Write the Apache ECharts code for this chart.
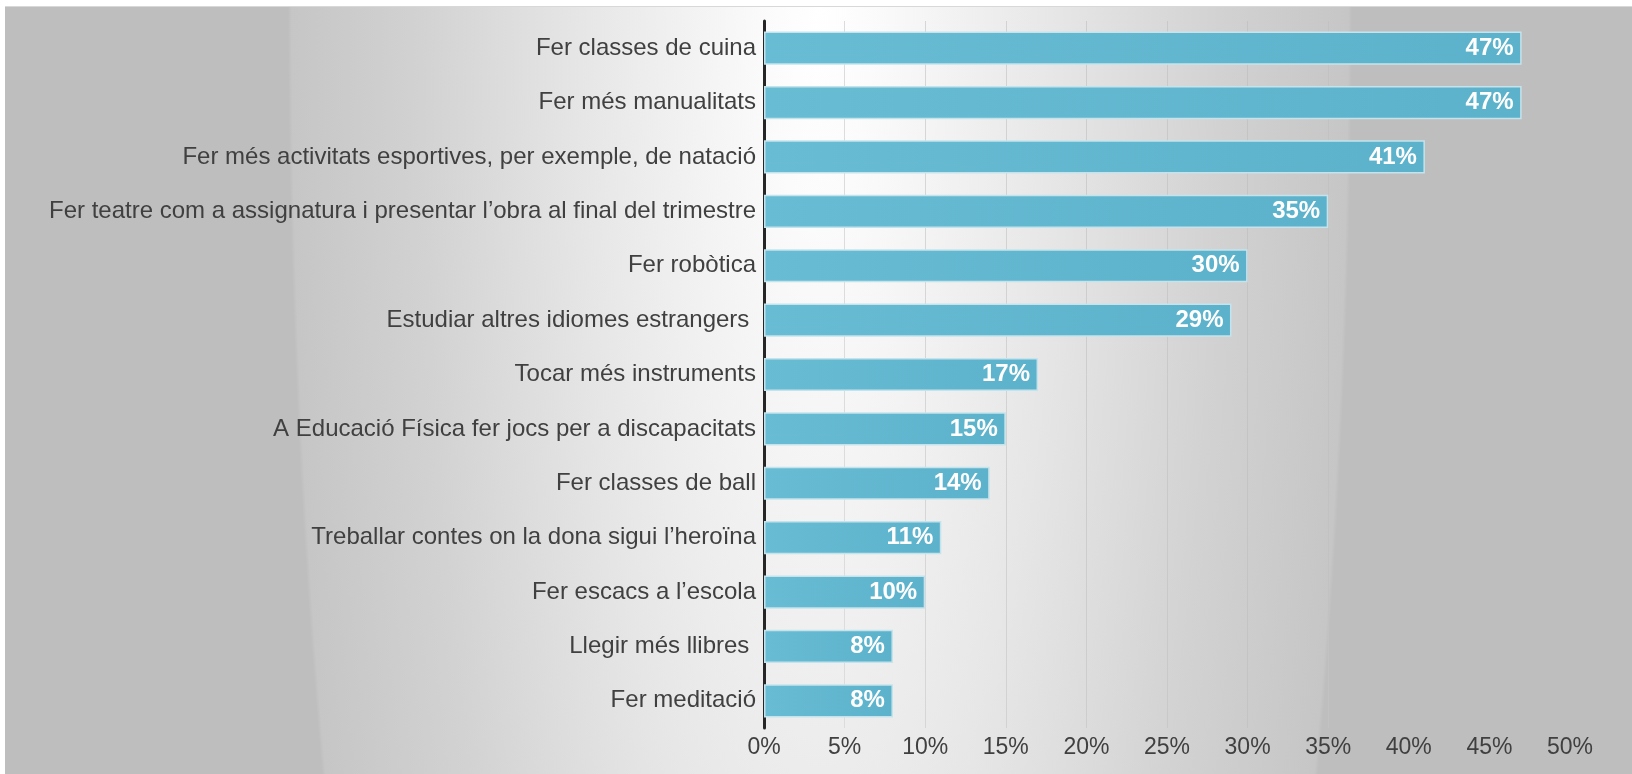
<!DOCTYPE html>
<html>
<head>
<meta charset="utf-8">
<script src="https://cdn.jsdelivr.net/npm/echarts@6/dist/echarts.min.js"></script>
<style>
  html, body { margin: 0; padding: 0; background: #ffffff; }
  #frame {
    position: absolute; left: 0; top: 0; width: 1632px; height: 774px;
    background: #ffffff;
  }
  #chart {
    position: absolute; left: 5px; top: 6px; width: 1627px; height: 768px;
    border-top: 1px solid #d8d8d8;
    box-sizing: border-box;
    background: radial-gradient(ellipse 532px 2200px at 815px -6px,
      #ffffff 0%, #fbfbfb 10%, #e6e6e6 45%, #d2d2d2 75%, #c6c6c6 99.3%, #bebebe 100%);
  }
</style>
</head>
<body>
<div id="frame"><div id="chart"></div></div>
<script>
// Activities, listed from the top of the chart downwards
const categories = [
  'Fer classes de cuina',
  'Fer més manualitats',
  'Fer més activitats esportives, per exemple, de natació',
  'Fer teatre com a assignatura i presentar l’obra al final del trimestre',
  'Fer robòtica',
  'Estudiar altres idiomes estrangers ',
  'Tocar més instruments',
  'A Educació Física fer jocs per a discapacitats',
  'Fer classes de ball',
  'Treballar contes on la dona sigui l’heroïna',
  'Fer escacs a l’escola',
  'Llegir més llibres ',
  'Fer meditació'
];
// Share of answers, in percent
const shares = [47, 47, 41, 35, 30, 29, 17, 15, 14, 11, 10, 8, 8];
// Horizontal axis range and step, in percent
const axisMax = 50;
const axisStep = 5;

const font = 'Liberation Sans, Arial, sans-serif';

const chart = echarts.init(document.getElementById('chart'), null, { renderer: 'canvas' });
chart.setOption({
  backgroundColor: 'transparent',
  animation: false,
  grid: { left: 759, right: 62, top: 14, bottom: 46, containLabel: false },
  xAxis: {
    type: 'value',
    min: 0,
    max: axisMax,
    interval: axisStep,
    axisLine: { show: false },
    axisTick: { show: false },
    splitLine: {
      show: true,
      lineStyle: {
        // gridlines fade out towards the grey right-hand edge
        color: ['#dcdcdc', '#dcdcdc', '#d6d6d6', '#d2d2d2', '#cdcdcd', '#c9c9c9',
                '#c4c4c4', '#c2c2c2', 'rgba(0,0,0,0)', 'rgba(0,0,0,0)', 'rgba(0,0,0,0)'],
        width: 1
      }
    },
    axisLabel: {
      formatter: v => v + '%',
      color: '#404040',
      fontFamily: font,
      fontSize: 23,
      margin: 8
    }
  },
  yAxis: {
    type: 'category',
    data: categories,
    inverse: true,
    axisLine: { show: true, lineStyle: { color: '#262626', width: 3 } },
    axisTick: { show: false },
    axisLabel: {
      color: '#404040',
      fontFamily: font,
      fontSize: 24,
      margin: 8
    }
  },
  series: [{
    type: 'bar',
    data: shares,
    barCategoryGap: '39%',
    itemStyle: {
      color: {
        type: 'linear', x: 0, y: 0, x2: 1, y2: 0,
        colorStops: [
          { offset: 0, color: '#68bdd5' },
          { offset: 1, color: '#5db2cb' }
        ]
      },
      borderColor: '#c4e3ec',
      borderWidth: 1.5
    },
    label: {
      show: true,
      position: 'insideRight',
      distance: 8,
      formatter: p => p.value + '%',
      color: '#ffffff',
      fontWeight: 'bold',
      fontFamily: font,
      fontSize: 24
    }
  }]
});
</script>
</body>
</html>
